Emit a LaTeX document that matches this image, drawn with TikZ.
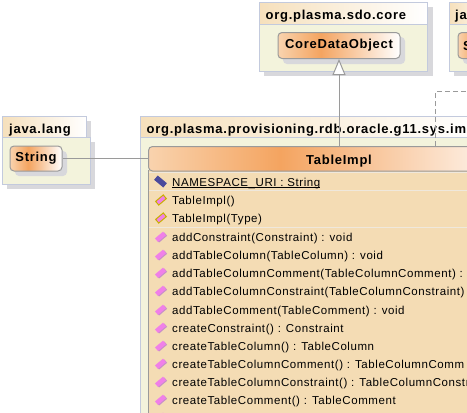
\documentclass[tikz,border=0pt]{standalone}
\usepackage{fontspec}
\setmainfont{Liberation Sans}
\usetikzlibrary{arrows.meta}
\definecolor{clsL}{HTML}{F9D3AE}
\definecolor{clsM}{HTML}{F4A460}
\definecolor{tabL}{HTML}{F6E0BC}
\definecolor{pkgbody}{HTML}{F3F3DC}
\definecolor{pkgline}{HTML}{C3CADD}
\definecolor{shadowc}{HTML}{D8D8DC}
\definecolor{clsbody}{HTML}{F4DCB4}
\definecolor{edgec}{HTML}{9A9A9A}
\definecolor{sepc}{HTML}{EFE8DC}
\definecolor{pinkc}{HTML}{F080E8}
\definecolor{pinkl}{HTML}{C890C8}
\definecolor{olivec}{HTML}{C8B000}
\definecolor{navyc}{HTML}{4A4A9C}
\pgfdeclarehorizontalshading{clsshade}{100bp}{color(0bp)=(clsL); color(25bp)=(clsL); color(42.5bp)=(clsM); color(75bp)=(white); color(100bp)=(white)}
\pgfdeclarehorizontalshading{tabshade}{100bp}{color(0bp)=(tabL); color(25bp)=(tabL); color(75bp)=(white); color(100bp)=(white)}
\tikzset{
  x=1pt,y=-1pt,
  pkgb/.style={draw=pkgline,line width=1pt,fill=pkgbody,sharp corners},
  pkgt/.style={draw=pkgline,line width=1pt,shading=tabshade,shading angle=0},
  shad/.style={fill=shadowc,draw=none},
  clsbox/.style={draw=edgec,line width=1pt,rounded corners=4pt,shading=clsshade},
  ttl/.style={inner sep=0pt,anchor=base west,font=\fontsize{13}{15}\bfseries\addfontfeature{LetterSpace=5.7}},
  clsttl/.style={inner sep=0pt,anchor=base,font=\fontsize{13}{15}\bfseries\addfontfeature{LetterSpace=5.7}},
  rowt/.style={inner sep=0pt,anchor=base west,font=\fontsize{11.5}{13}\selectfont\addfontfeature{LetterSpace=5},text=black},
  sepl/.style={draw=sepc,line width=1pt},
  edgel/.style={draw=edgec,line width=1pt},
  dashl/.style={draw=edgec,line width=1pt,dash pattern=on 5pt off 3pt},
}
\newcommand{\meth}[1]{%
  \begin{scope}[shift={(161,#1)},rotate=40]
    \fill[pinkl] (-5,-1.2) rectangle (5.5,3);
    \fill[pinkc] (-5.5,-2.8) rectangle (5,1.8);
  \end{scope}}
\newcommand{\ctor}[1]{%
  \begin{scope}[shift={(161,#1)},rotate=40]
    \draw[olivec,line width=1pt,fill=pinkc] (-5,-2.4) rectangle (5,2.4);
  \end{scope}}
\begin{document}
\begin{tikzpicture}
\useasboundingbox (0,0) rectangle (467,413);
\clip (0,0) rectangle (467,413);
\fill[white] (0,0) rectangle (467,413);

% org.plasma.sdo.core
\fill[shad] (264,7) rectangle (433,76);
\path[pkgb] (259.5,24.5) rectangle (427.5,71.5);
\path[pkgt] (259.5,2.5) rectangle (427.5,24.5);
\node[ttl] (coreT) at (265.5,19) {org.plasma.sdo.core};
\fill[shad,rounded corners=4pt] (283,37) rectangle (405,64);
\node[clsbox,minimum width=122pt,minimum height=26pt,inner sep=0pt] (core) at (339,45.5) {};
\node[clsttl,anchor=center] at (core.center) {CoreDataObject};

% second package at right
\fill[shad] (454,7) rectangle (480,76);
\path[pkgb] (449.5,24.5) rectangle (500,71.5);
\path[pkgt] (449.5,2.5) rectangle (500,24.5);
\node[ttl] (otherT) at (455,19) {ja};
\fill[shad,rounded corners=4pt] (463,37) rectangle (500,64);
\node[clsbox,minimum width=50pt,minimum height=26pt,inner sep=0pt] (other) at (483,45.5) {};
\node[clsttl,anchor=base west] at (463,50) {S};

% java.lang
\fill[shad] (7,121) rectangle (91,142);
\fill[shad] (7,142) rectangle (95,189);
\path[pkgb] (2.5,137.5) rectangle (90.5,184.5);
\path[pkgt] (2.5,116.5) rectangle (86.5,137.5);
\node[ttl] (javaT) at (9,133) {java.lang};
\fill[shad,rounded corners=4pt] (15,151) rectangle (67,176);
\node[clsbox,minimum width=52pt,minimum height=25pt,inner sep=0pt] (string) at (36,158.5) {};
\node[clsttl,anchor=center] at (string.center) {String};

% main package
\path[pkgb] (140.5,137.5) rectangle (560,440);
\path[pkgt] (140.5,116.5) rectangle (480,137.5);
\node[ttl] (mainT) at (146.5,133) {org.plasma.provisioning.rdb.oracle.g11.sys.im};

% class
\fill[clsbody] (148.5,170) rectangle (540,440);
\draw[edgec,line width=1pt] (148.5,440) -- (148.5,170);
\draw[sepl] (149,172.5) -- (540,172.5);
\draw[sepl] (149,190.5) -- (540,190.5);
\draw[sepl] (149,227.5) -- (540,227.5);
\path[draw=edgec,line width=1pt,shading=clsshade,rounded corners=4pt] (148.5,171) -- (148.5,146.5) -- (525,146.5) -- (525,171) -- cycle;
\node[clsttl] (cls) at (339,164) {TableImpl};
\coordinate (clsW) at (148,158.5);
\coordinate (clsN) at (339,146);
\coordinate (dashS) at (435.5,146);
\coordinate (dashB) at (435.5,91.5);
\coordinate (dashE) at (470,91.5);

% connectors
\draw[edgel] (string.east) -- (clsW);
\draw[edgel,-{Triangle[open,fill=white,length=16pt,width=13pt]}] (clsN) -- (core.south);
\draw[dashl] (dashS) -- (dashB) -- (dashE);

% attribute row
\begin{scope}[shift={(160.5,181.5)},rotate=-40]
  \fill[navyc] (-6,-2.8) rectangle (6,2.8);
\end{scope}
\node[rowt] (a1) at (172,186) {\underbar{NAMESPACE\_URI : String}};

% constructors
\ctor{200}\node[rowt] (c1) at (172,204) {TableImpl()};
\ctor{218}\node[rowt] (c2) at (172,222) {TableImpl(Type)};

% methods
\meth{237}\node[rowt] (m1) at (172,241) {addConstraint(Constraint) : void};
\meth{255}\node[rowt] (m2) at (172,259) {addTableColumn(TableColumn) : void};
\meth{273}\node[rowt] (m3) at (172,277) {addTableColumnComment(TableColumnComment) :};
\meth{291}\node[rowt] (m4) at (172,295) {addTableColumnConstraint(TableColumnConstraint)};
\meth{310}\node[rowt] (m5) at (172,314) {addTableComment(TableComment) : void};
\meth{328}\node[rowt] (m6) at (172,332) {createConstraint() : Constraint};
\meth{346}\node[rowt] (m7) at (172,350) {createTableColumn() : TableColumn};
\meth{364}\node[rowt] (m8) at (172,368) {createTableColumnComment() : TableColumnComm};
\meth{382}\node[rowt] (m9) at (172,386) {createTableColumnConstraint() : TableColumnConstr};
\meth{400}\node[rowt] (m10) at (172,404) {createTableComment() : TableComment};
\meth{418}
\end{tikzpicture}
\end{document}
